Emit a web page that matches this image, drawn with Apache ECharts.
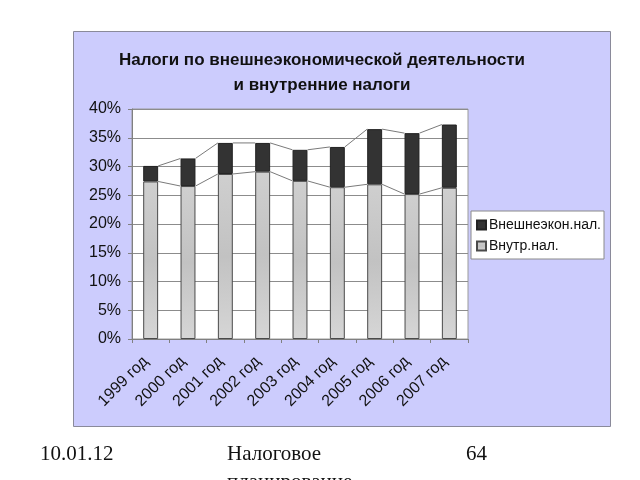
<!DOCTYPE html>
<html><head><meta charset="utf-8">
<script src="https://cdn.jsdelivr.net/npm/echarts@6/dist/echarts.min.js"></script>
<style>html,body{margin:0;padding:0;background:#fff}#c{width:640px;height:480px}</style>
</head><body><div id="c"></div>
<script>
const categories = ['1999 год','2000 год','2001 год','2002 год','2003 год','2004 год','2005 год','2006 год','2007 год'];
const internalTax = [27.4, 26.6, 28.7, 29.1, 27.5, 26.4, 26.9, 25.2, 26.3];
const foreignTax = [2.7, 4.8, 5.4, 5.0, 5.4, 7.0, 9.6, 10.6, 11.0];
const yTicks = [0, 5, 10, 15, 20, 25, 30, 35, 40];
const seriesNames = ['Внешнеэкон.нал.', 'Внутр.нал.'];

const totals = internalTax.map((v, i) => v + foreignTax[i]);
function linkData(arr) {
  const out = [];
  for (let i = 0; i < arr.length - 1; i++) out.push([i, arr[i], arr[i + 1]]);
  return out;
}
const FONT = '"Liberation Sans", Arial, sans-serif';
const SERIF = '21px "Liberation Serif", "Times New Roman", serif';

function seriesLine(data, z) {
  return {
    type: 'custom', data: data, z: z, silent: true,
    encode: { x: 0, y: [1, 2] },
    renderItem: function (params, api) {
      const i = api.value(0);
      const p1 = api.coord([i, api.value(1)]);
      const p2 = api.coord([i + 1, api.value(2)]);
      const half = api.size([1, 0])[0] * 0.2;
      return {
        type: 'line',
        shape: { x1: p1[0] + half, y1: p1[1], x2: p2[0] - half, y2: p2[1] },
        style: { stroke: '#7a7a7a', lineWidth: 1 }
      };
    }
  };
}

function footText(str, x, y) {
  return { type: 'text', x: x, y: y, style: { text: str, font: SERIF, fill: '#111', textBaseline: 'alphabetic', verticalAlign: 'bottom' } };
}

const chart = echarts.init(document.getElementById('c'), null, { renderer: 'canvas' });
chart.setOption({
  backgroundColor: '#ffffff',
  animation: false,
  textStyle: { fontFamily: FONT },
  title: [
    { text: 'Налоги по внешнеэкономической деятельности', left: 322, top: 52, textAlign: 'center', padding: 0,
      textStyle: { fontFamily: FONT, fontSize: 17, fontWeight: 'bold', color: '#111' } },
    { text: 'и внутренние налоги', left: 322, top: 77, textAlign: 'center', padding: 0,
      textStyle: { fontFamily: FONT, fontSize: 17, fontWeight: 'bold', color: '#111' } }
  ],
  graphic: [
    { type: 'rect', z: -10, shape: { x: 73.5, y: 31.5, width: 537, height: 395 },
      style: { fill: '#ccccfd', stroke: '#8a8a9a', lineWidth: 1 } },
    { type: 'text', left: 40, top: 444, style: { text: '10.01.12', font: SERIF, fill: '#111' } },
    { type: 'text', left: 227, top: 444, style: { text: 'Налоговое', font: SERIF, fill: '#111' } },
    { type: 'text', left: 466, top: 444, style: { text: '64', font: SERIF, fill: '#111' } },
    { type: 'text', x: 227, y: 472, style: { text: 'планирование', font: SERIF, fill: '#111' } }
  ],
  legend: {
    orient: 'vertical', left: 471, top: 211,
    data: seriesNames,
    backgroundColor: '#ffffff', borderColor: '#8a8a8a', borderWidth: 1,
    padding: [7, 3, 6, 5], itemGap: 7, itemWidth: 9, itemHeight: 9,
    icon: 'rect',
    textStyle: { fontFamily: FONT, fontSize: 14, color: '#111', padding: [0, 0, 0, -2] }
  },
  grid: { left: 132, top: 109, width: 336, height: 230, show: true, backgroundColor: '#ffffff', borderColor: '#9a9a9a', borderWidth: 1 },
  xAxis: {
    type: 'category', data: categories, boundaryGap: true,
    axisLine: { lineStyle: { color: '#808080', width: 1 } },
    axisTick: { show: true, length: 4, lineStyle: { color: '#808080' } },
    axisLabel: { rotate: 45, fontSize: 16, color: '#111', margin: 15, padding: [0, 7, 0, 0], fontFamily: FONT }
  },
  yAxis: {
    type: 'value', min: 0, max: 40, interval: 5,
    axisLine: { show: true, lineStyle: { color: '#808080', width: 1 } },
    axisTick: { show: true, length: 4, lineStyle: { color: '#808080' } },
    splitLine: { show: true, lineStyle: { color: '#8c8c8c', width: 1 } },
    axisLabel: { fontSize: 16, color: '#111', margin: 11, fontFamily: FONT,
      formatter: function (v) { return yTicks.indexOf(v) >= 0 ? v + '%' : ''; } }
  },
  series: [
    { name: seriesNames[1], type: 'bar', stack: 'tax', data: internalTax, barWidth: '40%', z: 3,
      itemStyle: { color: new echarts.graphic.LinearGradient(0, 0, 0, 1, [
        { offset: 0, color: '#cfcfcf' }, { offset: 0.5, color: '#c2c2c2' }, { offset: 1, color: '#d6d6d6' }]),
        borderColor: '#4a4a4a', borderWidth: 1 } },
    { name: seriesNames[0], type: 'bar', stack: 'tax', data: foreignTax, barWidth: '40%', z: 3,
      itemStyle: { color: '#333333', borderColor: '#222222', borderWidth: 1 } },
    seriesLine(linkData(internalTax), 2),
    seriesLine(linkData(totals), 2)
  ]
});
</script></body></html>
